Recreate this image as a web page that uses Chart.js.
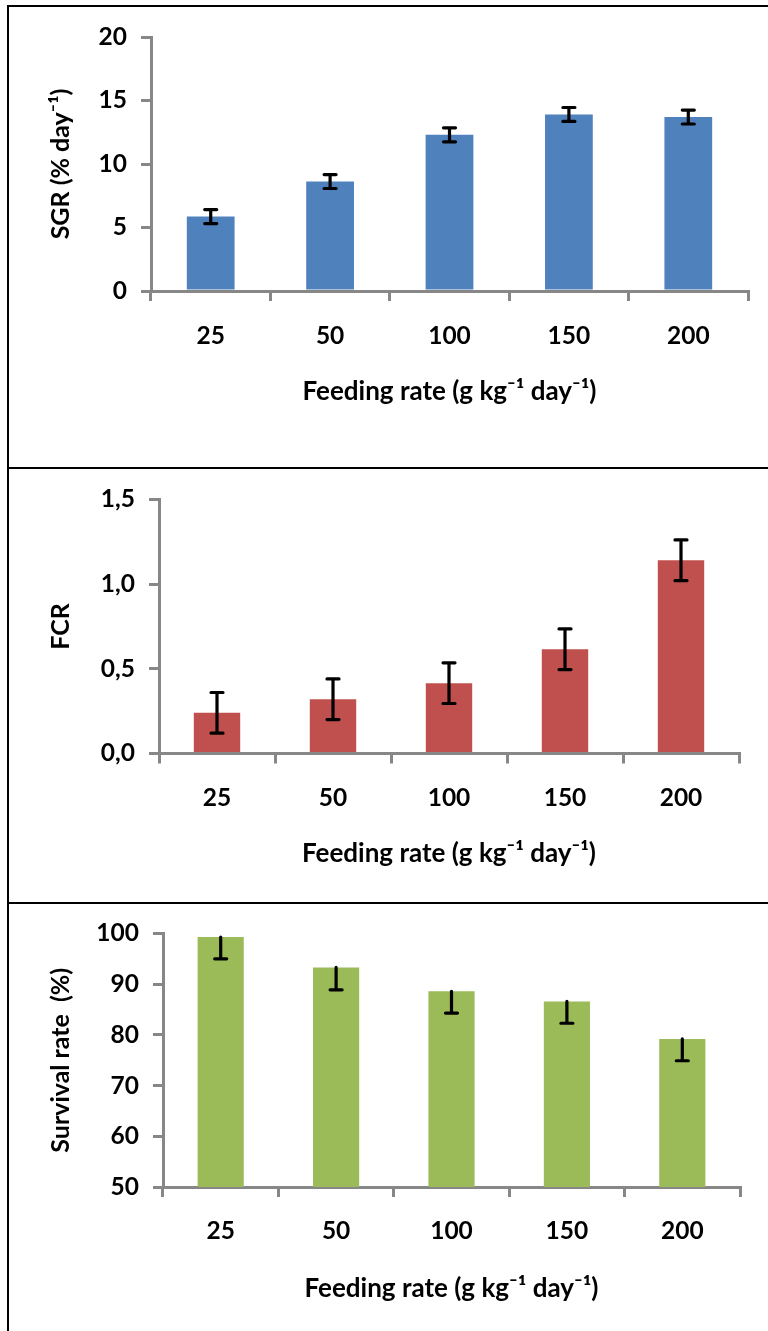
<!DOCTYPE html>
<html><head><meta charset="utf-8">
<script src="https://cdn.jsdelivr.net/npm/chart.js@4.4.1/dist/chart.umd.min.js"></script>
<style>
html,body{margin:0;padding:0;background:#fff;}
body{width:768px;height:1331px;overflow:hidden;position:relative;}
.p{position:absolute;left:9px;width:759px;}
.p canvas{display:block;}
.ln{position:absolute;background:#000;}
</style></head><body>
<div class="p" style="top:7px;height:460px"><canvas id="c1" width="759" height="460"></canvas></div>
<div class="p" style="top:469px;height:433px"><canvas id="c2" width="759" height="433"></canvas></div>
<div class="p" style="top:904px;height:427px"><canvas id="c3" width="759" height="427"></canvas></div>
<div class="ln" style="left:7px;top:5px;width:2px;height:1326px"></div>
<div class="ln" style="left:7px;top:5px;width:761px;height:2px"></div>
<div class="ln" style="left:7px;top:467px;width:761px;height:2px"></div>
<div class="ln" style="left:7px;top:902px;width:761px;height:2px"></div>
<script>
// ---- data ----
const categories = ['25', '50', '100', '150', '200'];
const xTitle = 'Feeding rate (g kg\u207B\u00B9 day\u207B\u00B9)';

const sgrValues = [5.86, 8.62, 12.3, 13.9, 13.7];
const sgrErrors = [0.55, 0.55, 0.55, 0.55, 0.55];
const sgrTicks = ['0', '5', '10', '15', '20'];
const sgrTitle = 'SGR (% day\u207B\u00B9)';

const fcrValues = [0.24, 0.32, 0.415, 0.615, 1.14];
const fcrErrors = [0.12, 0.12, 0.12, 0.12, 0.12];
const fcrTicks = ['0,0', '0,5', '1,0', '1,5'];
const fcrTitle = 'FCR';

const survivalValues = [99.3, 93.3, 88.6, 86.6, 79.2];
const survivalErrors = [4.3, 4.4, 4.3, 4.3, 4.3];
const survivalTicks = ['50', '60', '70', '80', '90', '100'];
const survivalTitle = 'Survival rate  (%)';

// ---- error bar plugin ----
const errorBars = {
  id: 'errorBars',
  afterDatasetsDraw(chart, args, opts) {
    const ctx = chart.ctx;
    const ys = chart.scales.y;
    const meta = chart.getDatasetMeta(0);
    const vals = chart.data.datasets[0].data;
    ctx.save();
    ctx.strokeStyle = '#000';
    ctx.lineWidth = 3.2;
    ctx.lineCap = 'round';
    meta.data.forEach((bar, i) => {
      const v = vals[i], e = opts.errors[i];
      const x = bar.x;
      const yTop = ys.getPixelForValue(opts.minusOnly ? v : v + e);
      const yBot = ys.getPixelForValue(v - e);
      ctx.beginPath();
      ctx.moveTo(x, yTop); ctx.lineTo(x, yBot);
      if (!opts.minusOnly) { ctx.moveTo(x - 6, yTop); ctx.lineTo(x + 6, yTop); }
      ctx.moveTo(x - 6, yBot); ctx.lineTo(x + 6, yBot);
      ctx.stroke();
    });
    ctx.restore();
  }
};

const FONT = 'Lato, "Open Sans", "DejaVu Sans", sans-serif';
const AXIS = '#878787';

function makeChart(id, o) {
  const c = document.getElementById(id);
  const W = c.width, H = c.height;
  return new Chart(c, {
    type: 'bar',
    data: {
      labels: categories,
      datasets: [{
        data: o.values,
        backgroundColor: o.color,
        borderWidth: 0,
        barPercentage: 0.4,
        categoryPercentage: 1.0
      }]
    },
    options: {
      responsive: false,
      animation: false,
      events: [],
      layout: { padding: { left: 0, right: W - o.area.r, top: o.area.t, bottom: 0 } },
      plugins: {
        legend: { display: false },
        tooltip: { enabled: false },
        errorBars: { errors: o.errors, minusOnly: !!o.minusOnly }
      },
      scales: {
        x: {
          offset: true,
          grid: { display: true, offset: true, drawOnChartArea: false, drawTicks: true, tickLength: 10, color: AXIS, lineWidth: 3 },
          border: { display: true, color: AXIS, width: 3 },
          ticks: { color: '#000', font: { family: FONT, size: 24.5, weight: 'bold' }, padding: o.xTickPad, maxRotation: 0, autoSkip: false },
          title: { display: true, text: xTitle, color: '#000', font: { family: FONT, size: 26, weight: 'bold' }, padding: { top: 0, bottom: o.xTitlePad } },
          afterFit: s => { s.height = H - o.area.b; }
        },
        y: {
          min: o.min, max: o.max,
          grid: { display: true, drawOnChartArea: false, drawTicks: true, tickLength: 10, color: AXIS, lineWidth: 3 },
          border: { display: true, color: AXIS, width: 3 },
          ticks: { stepSize: o.step, color: '#000', font: { family: FONT, size: 24.5, weight: 'bold' }, padding: 14,
                   callback: (v, i) => o.ticks[i] },
          title: { display: true, text: o.title, color: '#000', font: { family: FONT, size: 25, weight: 'bold' }, padding: { top: 37, bottom: 0 } },
          afterFit: s => { s.width = o.area.l; }
        }
      }
    },
    plugins: [errorBars]
  });
}

makeChart('c1', { values: sgrValues, errors: sgrErrors, color: '#4F81BD', min: 0, max: 20, step: 5,
  ticks: sgrTicks, title: sgrTitle, area: { l: 142, r: 739, t: 30, b: 284 }, xTickPad: 20.8, xTitlePad: 59.4 });
makeChart('c2', { values: fcrValues, errors: fcrErrors, color: '#C0504D', min: 0, max: 1.5, step: 0.5,
  ticks: fcrTicks, title: fcrTitle, area: { l: 150, r: 730, t: 30.3, b: 284.5 }, xTickPad: 20.3, xTitlePad: 32.4 });
makeChart('c3', { values: survivalValues, errors: survivalErrors, color: '#9BBB59', min: 50, max: 100, step: 10,
  ticks: survivalTicks, title: survivalTitle, area: { l: 154, r: 731, t: 29.5, b: 283 }, xTickPad: 19.8, xTitlePad: 26.9, minusOnly: true });
</script>
</body></html>
